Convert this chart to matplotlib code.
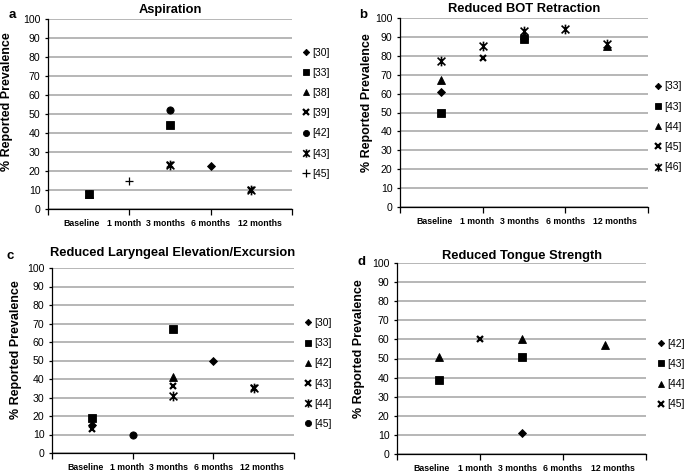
import numpy as np
import matplotlib
matplotlib.use('Agg')
from matplotlib import pyplot as plt
from matplotlib.path import Path

nan = np.nan

months = ['Baseline', '1 month', '3 months', '6 months', '12 months']

# a - Aspiration
asp_refs = ['[30]', '[33]', '[38]', '[39]', '[42]', '[43]', '[45]']
asp_values = [
    [nan, nan, nan, 22.5, nan],
    [8, nan, 44, nan, nan],
    [8, nan, nan, nan, nan],
    [8, nan, 23, nan, 10],
    [nan, nan, 52, nan, nan],
    [nan, nan, 23, nan, 10],
    [nan, 14.5, nan, nan, nan],
]

# b - Reduced BOT Retraction
bot_refs = ['[33]', '[43]', '[44]', '[45]', '[46]']
bot_values = [
    [61, nan, nan, nan, nan],
    [50, nan, 89, nan, nan],
    [67, nan, 91, nan, 85],
    [nan, 79, nan, nan, nan],
    [77.5, 85, 93, 94, 86.5],
]

# c - Reduced Laryngeal Elevation/Excursion
lar_refs = ['[30]', '[33]', '[42]', '[43]', '[44]', '[45]']
lar_values = [
    [15, nan, nan, 50, nan],
    [19, nan, 67, nan, nan],
    [nan, nan, 41, nan, nan],
    [13, nan, 36, nan, 35],
    [nan, nan, 31, nan, 35],
    [nan, 9.5, nan, nan, nan],
]

# d - Reduced Tongue Strength
ton_refs = ['[42]', '[43]', '[44]', '[45]']
ton_values = [
    [nan, nan, 11, nan, nan],
    [39, nan, 51, nan, nan],
    [51, nan, 60, nan, 57],
    [nan, 60, nan, nan, nan],
]

# excel-like "star" marker: an x with a vertical bar through it
star = Path([(-1, -1), (1, 1), (-1, 1), (1, -1), (0, -1.25), (0, 1.25)],
            [Path.MOVETO, Path.LINETO] * 3)

MARKERS = {
    'diamond': dict(marker='D', ms=3.8, mew=0.6),
    'square': dict(marker='s', ms=5.4, mew=0.6),
    'triangle': dict(marker='^', ms=5.6, mew=0.6),
    'x': dict(marker='x', ms=4.8, mew=1.6),
    'circle': dict(marker='o', ms=5.2, mew=0.6),
    'star': dict(marker=star, ms=7, mew=1.2),
    'plus': dict(marker='+', ms=6, mew=0.9),
}

# the category names sit in a text row that is spread a bit wider than the points
LABEL_SHIFT = [-0.17, -0.13, -0.1, 0.0, 0.2]

plt.rcParams['font.family'] = 'Liberation Sans'


def draw_panel(ax, title, title_pad, refs, shapes, values, leg_anchor, ylab_pos):
    x = np.arange(1, len(months) + 1)
    for ref, shape, vals in zip(refs, shapes, values):
        ax.plot(x, vals, linestyle='none', color='black', mfc='black',
                mec='black', label=ref, zorder=3, **MARKERS[shape])

    ax.set_xlim(0, 6)
    ax.set_ylim(0, 100)
    ax.set_yticks(range(0, 101, 10))
    ax.xaxis.remove_overlapping_locs = False
    ax.set_xticks([0, 2, 4, 6])
    ax.set_xticklabels([])
    ax.set_xticks(x + np.array(LABEL_SHIFT), minor=True)
    ax.set_xticklabels(months, minor=True, fontsize=6.3, fontweight='bold')
    ax.tick_params(axis='x', which='minor', length=0, pad=7)
    ax.tick_params(axis='x', which='major', length=4, width=0.9, direction='out')
    ax.tick_params(axis='y', length=2.5, width=0.9, labelsize=7.6, pad=3)

    ax.yaxis.grid(True, color='#a3a3a3', lw=1.1)
    ax.set_axisbelow(True)
    for side in ['top', 'right']:
        ax.spines[side].set_visible(False)
    for side in ['left', 'bottom']:
        ax.spines[side].set_linewidth(0.9)

    ax.set_title(title, fontsize=9.3, fontweight='bold', pad=title_pad)
    ax.set_ylabel('% Reported Prevalence', fontsize=9, fontweight='bold')
    ax.yaxis.set_label_coords(*ylab_pos)

    ax.legend(loc='upper left', bbox_to_anchor=leg_anchor, frameon=False,
              fontsize=7.5, markerscale=0.85, handlelength=1.0,
              handletextpad=0.1, labelspacing=0.98, borderpad=0,
              borderaxespad=0)


fig = plt.figure(figsize=(6.85, 4.72), dpi=100)
W, H = 685, 472


def add_axes(left, right, top, bottom):
    return fig.add_axes([left / W, 1 - bottom / H, (right - left) / W, (bottom - top) / H])


ax_a = add_axes(48, 292, 19, 209)
ax_b = add_axes(400, 648, 18, 207)
ax_c = add_axes(52, 294, 268, 453)
ax_d = add_axes(397, 646, 263, 454)

draw_panel(ax_a, 'Aspiration', 4.5, asp_refs,
           ['diamond', 'square', 'triangle', 'x', 'circle', 'star', 'plus'],
           asp_values, (1.036, 0.85), (-0.143, 0.565))
draw_panel(ax_b, 'Reduced BOT Retraction', 4.5, bot_refs,
           ['diamond', 'square', 'triangle', 'x', 'star'],
           bot_values, (1.019, 0.665), (-0.109, 0.55))
draw_panel(ax_c, 'Reduced Laryngeal Elevation/Excursion', 8.3, lar_refs,
           ['diamond', 'square', 'triangle', 'x', 'star', 'circle'],
           lar_values, (1.036, 0.73), (-0.124, 0.557))
draw_panel(ax_d, 'Reduced Tongue Strength', 3, ton_refs,
           ['diamond', 'square', 'triangle', 'x'],
           ton_values, (1.039, 0.603), (-0.129, 0.55))

for letter, (lx, ly) in zip('abcd', [(12, 15), (363, 15), (10, 256), (362, 262)]):
    fig.text(lx / W, 1 - ly / H, letter, fontsize=9.5, fontweight='bold',
             ha='center', va='center')

fig.savefig('out.png', dpi=100)
